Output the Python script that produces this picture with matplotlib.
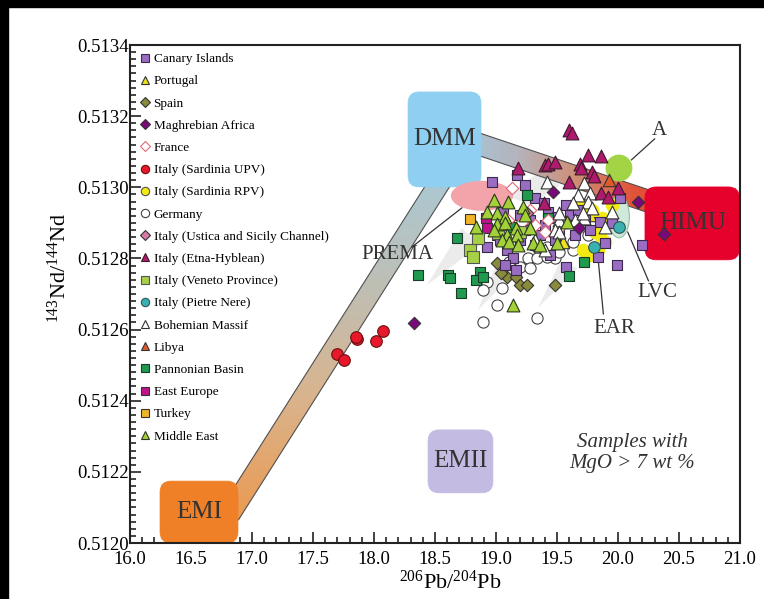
import numpy as np
import matplotlib
matplotlib.use("Agg")
import matplotlib.pyplot as plt
from matplotlib.patches import Polygon, FancyBboxPatch, Ellipse, Rectangle
from matplotlib.lines import Line2D
from matplotlib.colors import LinearSegmentedColormap
from matplotlib.ticker import MultipleLocator, FormatStrFormatter

plt.rcParams['font.family'] = ['Liberation Serif', 'DejaVu Serif']
plt.rcParams['mathtext.fontset'] = 'custom'
plt.rcParams['mathtext.rm'] = 'Liberation Serif'
plt.rcParams['mathtext.it'] = 'Liberation Serif:italic'

# ---------------- data (206Pb/204Pb, 143Nd/144Nd) ----------------
canary_x = [18.97, 19.17, 19.24, 19.32, 19.39, 19.43, 19.50, 19.61, 19.67, 19.85, 19.95, 20.02,
            19.89, 19.84, 20.20, 19.99, 18.93, 19.09, 19.14, 19.01, 19.57, 19.20, 19.28, 19.40,
            19.52, 19.20, 19.32, 19.44, 19.07, 19.16, 19.77, 19.65, 19.11, 19.24, 19.36, 19.48,
            19.73, 19.03, 19.06, 19.57]
canary_y = [0.513015, 0.513035, 0.513006, 0.512970, 0.512956, 0.512931, 0.512917, 0.512922,
            0.512936, 0.512902, 0.512900, 0.512970, 0.512843, 0.512804, 0.512838, 0.512782,
            0.512832, 0.512824, 0.512801, 0.512866, 0.512776, 0.512922, 0.512908, 0.512894,
            0.512880, 0.512852, 0.512838, 0.512810, 0.512782, 0.512768, 0.512880, 0.512866,
            0.512894, 0.512880, 0.512866, 0.512852, 0.512908, 0.512852, 0.512931, 0.512950]
portugal_x = [19.77, 19.55]
portugal_y = [0.512922, 0.512846]
spain_x = [19.01, 19.09, 19.16, 19.20, 19.25, 19.48, 19.04]
spain_y = [0.512787, 0.512748, 0.512748, 0.512725, 0.512725, 0.512725, 0.512760]
maghreb_x = [18.33, 19.47, 19.68, 20.16, 20.38]
maghreb_y = [0.512619, 0.512987, 0.512886, 0.512959, 0.512869]
france_x = [19.13, 19.10, 19.21, 19.32, 19.43, 19.52, 19.28, 19.40]
france_y = [0.512998, 0.512908, 0.512902, 0.512894, 0.512908, 0.512886, 0.512936, 0.512874]
sard_upv_x = [17.70, 17.75, 17.86, 18.02, 18.07, 17.85]
sard_upv_y = [0.512531, 0.512515, 0.512574, 0.512568, 0.512596, 0.512580]
sard_rpv_x = [19.70, 19.79, 19.87, 19.85, 19.89, 19.71, 19.77, 19.84, 19.95, 19.81]
sard_rpv_y = [0.512950, 0.512936, 0.512914, 0.512866, 0.512846, 0.512824, 0.512810, 0.512824,
              0.512950, 0.512874]
germany_x = [18.89, 19.01, 19.34, 18.93, 19.05, 19.26, 19.34, 19.48, 19.63, 19.75, 19.20, 19.28,
             19.34, 19.42, 19.52, 19.42, 18.89, 19.11, 19.63]
germany_y = [0.512621, 0.512669, 0.512633, 0.512734, 0.512717, 0.512801, 0.512801, 0.512801,
             0.512824, 0.512866, 0.512776, 0.512773, 0.512832, 0.512832, 0.512818, 0.512804,
             0.512711, 0.512790, 0.512846]
ustica_x = [19.25, 19.57]
ustica_y = [0.512928, 0.512902]
etna_x = [19.60, 19.62, 19.18, 19.40, 19.43, 19.48, 19.69, 19.70, 19.75, 19.86, 19.79, 19.80,
          19.60, 20.00, 19.86, 19.92, 19.39]
etna_y = [0.513161, 0.513153, 0.513054, 0.513063, 0.513065, 0.513071, 0.513065, 0.513054,
          0.513091, 0.513088, 0.513043, 0.513032, 0.513015, 0.512998, 0.512984, 0.512973,
          0.512956]
veneto_x = [18.79, 18.81, 18.85, 19.02, 19.20]
veneto_y = [0.512824, 0.512804, 0.512857, 0.512872, 0.512874]
pietre_x = [20.01, 19.80]
pietre_y = [0.512888, 0.512832]
bohem_x = [19.42, 19.72, 19.67, 19.77, 19.75, 19.79, 19.72, 19.65, 19.52, 19.48, 19.89, 19.95,
           19.52, 19.63, 19.71, 19.52, 19.32, 19.40]
bohem_y = [0.513015, 0.513012, 0.512978, 0.512984, 0.512959, 0.512942, 0.512914, 0.512908,
           0.512908, 0.512880, 0.512888, 0.512931, 0.512928, 0.512956, 0.512928, 0.512874,
           0.512852, 0.512824]
libya_x = [19.93]
libya_y = [0.513021]
pannon_x = [18.68, 18.36, 18.61, 18.62, 18.71, 18.87, 18.84, 18.89, 19.60, 19.72, 19.25, 19.43,
            19.13]
pannon_y = [0.512857, 0.512753, 0.512753, 0.512745, 0.512703, 0.512762, 0.512739, 0.512748,
            0.512751, 0.512790, 0.512978, 0.512914, 0.512888]
easteu_x = [18.92, 18.93]
easteu_y = [0.512914, 0.512886]
turkey_x = [18.79]
turkey_y = [0.512911]
mideast_x = [18.98, 19.10, 19.22, 18.93, 19.01, 19.07, 18.84, 19.01, 19.07, 19.16, 19.28, 19.09,
             19.17, 19.05, 19.11, 19.18, 19.30, 19.36, 19.50, 19.58, 19.14, 18.98, 19.24]
mideast_y = [0.512964, 0.512959, 0.512945, 0.512931, 0.512928, 0.512917, 0.512888, 0.512897,
             0.512900, 0.512886, 0.512886, 0.512866, 0.512866, 0.512852, 0.512846, 0.512838,
             0.512843, 0.512838, 0.512843, 0.512902, 0.512669, 0.512880, 0.512922]

x_ticks = [16.0, 16.5, 17.0, 17.5, 18.0, 18.5, 19.0, 19.5, 20.0, 20.5, 21.0]
y_ticks = [0.5120, 0.5122, 0.5124, 0.5126, 0.5128, 0.5130, 0.5132, 0.5134]

# legend order: (label, x, y, marker, face, edge, size, draw order)
series = [
    ("Canary Islands", canary_x, canary_y, 's', '#9a6cc2', '#3a2a4a', 62, 4.3),
    ("Portugal", portugal_x, portugal_y, '^', '#f0e020', '#333333', 80, 4.2),
    ("Spain", spain_x, spain_y, 'D', '#8a8a3c', '#333333', 40, 4.1),
    ("Maghrebian Africa", maghreb_x, maghreb_y, 'D', '#7a0a7a', '#333333', 40, 5.5),
    ("France", france_x, france_y, 'D', 'white', '#e06a78', 40, 4.4),
    ("Italy (Sardinia UPV)", sard_upv_x, sard_upv_y, 'o', '#e8182c', '#6a1010', 70, 5.0),
    ("Italy (Sardinia RPV)", sard_rpv_x, sard_rpv_y, 'o', '#f2ea10', '#f2ea10', 80, 4.25),
    ("Germany", germany_x, germany_y, 'o', 'white', '#444444', 65, 4.0),
    ("Italy (Ustica and Sicily Channel)", ustica_x, ustica_y, 'D', '#d87aa8', '#333333', 40, 4.45),
    ("Italy (Etna-Hyblean)", etna_x, etna_y, '^', '#b01a6e', '#3a1a2a', 85, 5.2),
    ("Italy (Veneto Province)", veneto_x, veneto_y, 's', '#a6d046', '#555555', 70, 4.5),
    ("Italy (Pietre Nere)", pietre_x, pietre_y, 'o', '#3ab0b0', '#335555', 70, 4.6),
    ("Bohemian Massif", bohem_x, bohem_y, '^', 'white', '#333333', 85, 4.7),
    ("Libya", libya_x, libya_y, '^', '#e05a28', '#333333', 80, 5.1),
    ("Pannonian Basin", pannon_x, pannon_y, 's', '#1f9a4e', '#1a3a2a', 62, 4.35),
    ("East Europe", easteu_x, easteu_y, 's', '#c0128c', '#333333', 62, 4.36),
    ("Turkey", turkey_x, turkey_y, 's', '#f0b428', '#333333', 62, 4.37),
    ("Middle East", mideast_x, mideast_y, '^', '#a4d03a', '#2a3a1a', 85, 4.8),
]

fig = plt.figure(figsize=(7.64, 5.99), dpi=100)
ax = fig.add_axes([130 / 764, 1 - 543 / 599, 610 / 764, 498 / 599])
XMIN, XMAX, YMIN, YMAX = 16.0, 21.0, 0.5120, 0.5134

# black frame fragments of the original screenshot
fig.add_artist(Rectangle((0, 1 - 7 / 599), 1, 7 / 599, transform=fig.transFigure,
                         color='black', zorder=0))
fig.add_artist(Rectangle((0, 0), 8 / 764, 1, transform=fig.transFigure,
                         color='black', zorder=0))

# light grey fans
fans = [
    [(18.434, 0.512725), (18.721, 0.512886), (18.869, 0.512838)],
    [(18.852, 0.512655), (19.008, 0.512790), (19.156, 0.512762)],
    [(19.344, 0.512661), (19.525, 0.512790), (19.672, 0.512773)],
    [(19.074, 0.512978), (19.361, 0.513043), (19.525, 0.513006), (19.279, 0.512950)],
]
for f in fans:
    ax.add_patch(Polygon(f, closed=True, facecolor='#ebebeb', edgecolor='none', zorder=0.5))

# gradient bands
def gradient_band(verts, colors, vertical):
    poly = Polygon(verts, closed=True, facecolor='none', edgecolor='#505050', lw=0.8, zorder=1.2)
    ax.add_patch(poly)
    cmap = LinearSegmentedColormap.from_list('b', colors)
    g = np.linspace(0, 1, 256)
    img = g.reshape(-1, 1) if vertical else g.reshape(1, -1)
    xs = [v[0] for v in verts]
    ys = [v[1] for v in verts]
    im = ax.imshow(img, cmap=cmap, aspect='auto', origin='lower',
                   extent=[min(xs), max(xs), min(ys), max(ys)], zorder=1.1,
                   interpolation='bilinear')
    im.set_clip_path(poly)

gradient_band([(16.684, 0.512065), (16.889, 0.512065), (18.811, 0.513105), (18.607, 0.513105)],
              ['#eb9a50', '#d9b48e', '#bcc0b8', '#a6cadb'], vertical=True)
gradient_band([(18.705, 0.513171), (20.590, 0.512954), (20.590, 0.512889), (18.705, 0.513107)],
              ['#a6c6d8', '#b4b4bc', '#cf8f78', '#e0553a', '#e4402c'], vertical=False)

# end-member boxes
aspect = 2.811e-6 * 122
def box(x0, x1, y0, y1, color, text):
    p = FancyBboxPatch((x0, y0), x1 - x0, y1 - y0,
                       boxstyle='round,pad=0,rounding_size=0.09',
                       mutation_aspect=aspect, facecolor=color, edgecolor=color,
                       lw=0.5, zorder=2)
    ax.add_patch(p)
    ax.text((x0 + x1) / 2, (y0 + y1) / 2, text, ha='center', va='center',
            fontsize=18, color='#333333', zorder=2.1)

box(18.279, 18.877, 0.513001, 0.513268, '#8fd0f2', 'DMM')
box(16.246, 16.885, 0.512000, 0.512174, '#ef8027', 'EMI')
box(20.221, 20.995, 0.512796, 0.513001, '#e6002c', 'HIMU')
box(18.443, 18.975, 0.512141, 0.512318, '#c3bbe2', 'EMII')

# ellipses
ax.add_patch(Ellipse((18.885, 0.512976), 0.51, 0.0000843, facecolor='#f3a3aa',
                     edgecolor='none', zorder=2))
ax.add_patch(Ellipse((20.008, 0.513054), 0.22, 0.0000760, facecolor='#a3d445',
                     edgecolor='none', zorder=2))
ax.add_patch(Ellipse((20.008, 0.512917), 0.17, 0.000118, facecolor='#cfe9da',
                     edgecolor='#8fbfa5', lw=0.8, zorder=2))

# labels with leader lines
lab_kw = dict(fontsize=15, color='#333333', zorder=3)
ax.plot([18.31, 18.72], [0.512832, 0.512942], color='#333333', lw=0.9, zorder=3)
ax.text(18.19, 0.512812, 'PREMA', ha='center', va='center', **lab_kw)
ax.plot([20.11, 20.30], [0.513077, 0.513136], color='#333333', lw=0.9, zorder=3)
ax.text(20.34, 0.513161, 'A', ha='center', va='center', **lab_kw)
ax.plot([20.08, 20.25], [0.512874, 0.512737], color='#333333', lw=0.9, zorder=3)
ax.text(20.32, 0.512703, 'LVC', ha='center', va='center', **lab_kw)
ax.plot([19.83, 19.88], [0.512824, 0.512644], color='#333333', lw=0.9, zorder=3)
ax.text(19.97, 0.512604, 'EAR', ha='center', va='center', **lab_kw)

ax.text(20.115, 0.512253, 'Samples with\nMgO > 7 wt %', ha='center', va='center',
        fontsize=15, style='italic', color='#333333', linespacing=1.1, zorder=3)

# data points
handles = []
for label, xs, ys, m, fc, ec, s, z in series:
    ax.scatter(xs, ys, marker=m, s=s, facecolor=fc, edgecolor=ec, linewidths=0.8, zorder=z)
    handles.append(Line2D([], [], linestyle='none', marker=m, markerfacecolor=fc,
                          markeredgecolor=ec if fc != '#f2ea10' else '#555555',
                          markeredgewidth=0.8, markersize=6 if m != 'D' else 4.8,
                          label=label))

leg = ax.legend(handles=handles, loc='upper left', bbox_to_anchor=(0.017, 0.984),
                frameon=False, fontsize=9.5, handlelength=0.7, handletextpad=0.3,
                labelspacing=0.755, borderaxespad=0, borderpad=0)
leg.set_zorder(10)

# axes
ax.set_xlim(XMIN, XMAX)
ax.set_ylim(YMIN, YMAX)
ax.set_xticks(x_ticks)
ax.set_yticks(y_ticks)
ax.xaxis.set_major_formatter(FormatStrFormatter('%.1f'))
ax.yaxis.set_major_formatter(FormatStrFormatter('%.4f'))
ax.xaxis.set_minor_locator(MultipleLocator(0.1))
ax.yaxis.set_minor_locator(MultipleLocator(0.00002))
ax.tick_params(which='both', direction='in', top=False, right=False, width=1.2, color='#222222')
ax.tick_params(which='major', length=8, labelsize=13.5)
ax.tick_params(axis='y', which='major', pad=1)
ax.tick_params(axis='x', which='major', pad=6)
ax.tick_params(which='minor', length=4.5)
for sp in ax.spines.values():
    sp.set_linewidth(1.5)
    sp.set_color('#222222')

ax.set_xlabel(r'$^{206}$Pb/$^{204}$Pb', fontsize=16)
ax.set_ylabel(r'$^{143}$Nd/$^{144}$Nd', fontsize=16)
ax.xaxis.set_label_coords(0.525, -0.055)
ax.yaxis.set_label_coords(-0.097, 0.552)

fig.savefig('out.png', dpi=100)
